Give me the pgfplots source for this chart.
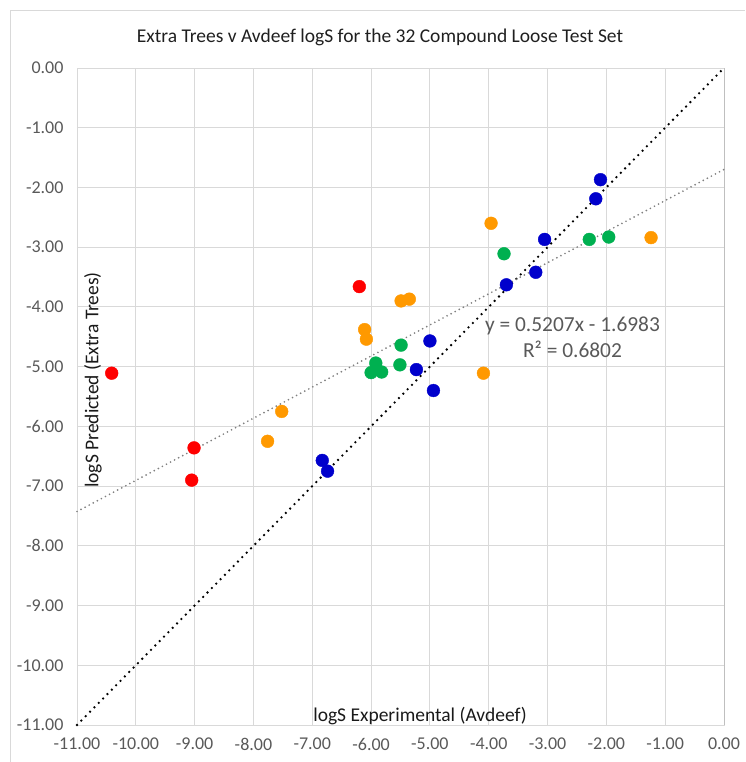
\documentclass[border=0pt]{standalone}
\usepackage{pgfplots}
\pgfplotsset{compat=1.18}
\usepackage{fontspec}
\setmainfont{Carlito}

\definecolor{gridgray}{HTML}{D9D9D9}
\definecolor{axisgray}{HTML}{BFBFBF}
\definecolor{labelgray}{HTML}{595959}
\definecolor{trendgray}{HTML}{808080}
\definecolor{ptred}{HTML}{FF0000}
\definecolor{ptorange}{HTML}{FF9900}
\definecolor{ptgreen}{HTML}{00B050}
\definecolor{ptblue}{HTML}{0000CC}

\begin{document}
\begin{tikzpicture}[x=1pt,y=1pt]
\path[use as bounding box] (0,0) rectangle (745,762);
% chart area frame
\draw[gridgray, line width=1pt] (10.5,0) -- (10.5,751.5) -- (745,751.5);

\begin{axis}[
  at={(77pt,37pt)}, anchor=south west,
  scale only axis, width=647pt, height=657pt,
  xmin=-11, xmax=0, ymin=-11, ymax=0,
  xtick={-11,-10,...,0}, ytick={-11,-10,...,0},
  grid=major,
  grid style={gridgray, line width=0.9pt},
  axis line style={draw=none},
  major tick length=0pt,
  /pgf/number format/.cd, fixed, fixed zerofill, precision=2, assume math mode=true,
  /pgfplots/.cd,
  ticklabel style={font=\fontsize{18}{20}\selectfont, text=labelgray},
  xticklabel style={yshift=-9.5pt},
  yticklabel style={xshift=-10pt},
  clip=false,
]
% plot area border and vertical axis line
\draw[gridgray, line width=0.9pt] (rel axis cs:0,0) rectangle (rel axis cs:1,1);
\draw[axisgray, line width=1pt] (rel axis cs:1,0) -- (rel axis cs:1,1);

% red compounds
\addplot[only marks, mark=*, mark size=6.4pt, mark options={fill=ptred, draw=ptred}]
  coordinates {(-10.41,-5.11) (-9.01,-6.36) (-9.05,-6.90) (-6.20,-3.66)};
% orange compounds
\addplot[only marks, mark=*, mark size=6.4pt, mark options={fill=ptorange, draw=ptorange}]
  coordinates {(-7.52,-5.75) (-7.76,-6.25) (-6.11,-4.38) (-6.08,-4.54) (-5.49,-3.90)
               (-5.35,-3.87) (-3.96,-2.60) (-4.09,-5.11) (-1.24,-2.84)};
% green compounds
\addplot[only marks, mark=*, mark size=6.4pt, mark options={fill=ptgreen, draw=ptgreen}]
  coordinates {(-3.74,-3.11) (-5.49,-4.64) (-5.51,-4.97) (-5.92,-4.94) (-6.00,-5.10)
               (-5.82,-5.09) (-2.29,-2.87) (-1.96,-2.83)};
% blue compounds
\addplot[only marks, mark=*, mark size=6.4pt, mark options={fill=ptblue, draw=ptblue}]
  coordinates {(-2.10,-1.87) (-2.18,-2.19) (-3.05,-2.87) (-3.20,-3.42) (-3.70,-3.63)
               (-5.00,-4.57) (-5.23,-5.05) (-4.94,-5.40) (-6.83,-6.57) (-6.74,-6.75)};

% line of identity
\addplot[black, line width=2.6pt, line cap=round, dash pattern=on 0pt off 6.2pt]
  coordinates {(-11,-11) (0,0)};
% linear trendline y = 0.5207x - 1.6983
\addplot[trendgray, line width=1.9pt, line cap=round, dash pattern=on 0pt off 4.6pt]
  coordinates {(-11,-7.4260) (0,-1.6983)};
\end{axis}

% titles and annotation
\node[anchor=base, text=black!88, font=\fontsize{19.5}{22}\selectfont] at (380,719)
  {Extra Trees v Avdeef logS for the 32 Compound Loose Test Set};
\node[anchor=base, text=black!90, font=\fontsize{19.5}{22}\selectfont] at (420,40)
  {logS Experimental (Avdeef)};
\node[rotate=90, anchor=center, text=black!90, font=\fontsize{19.5}{22}\selectfont] at (93,382)
  {logS Predicted (Extra Trees)};
\node[anchor=base, text=labelgray, font=\fontsize{21.4}{24}\selectfont] at (572.5,430)
  {y = 0.5207x - 1.6983};
\node[anchor=base, text=labelgray, font=\fontsize{21.4}{24}\selectfont] at (572.5,404)
  {R² = 0.6802};
\end{tikzpicture}
\end{document}
